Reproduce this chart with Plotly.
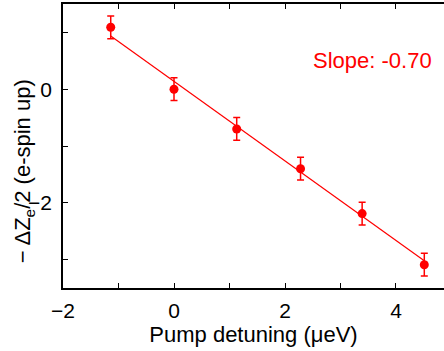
import numpy as np
import plotly.graph_objects as go

# Measured spin-up Zeeman shift vs pump detuning
detuning = [-1.14, 0.0, 1.13, 2.28, 3.39, 4.51]      # µeV
shift = [1.09, 0.0, -0.70, -1.40, -2.19, -3.09]
shift_err = [0.20, 0.20, 0.20, 0.20, 0.20, 0.20]
slope = -0.70

RED = "#ff0000"
FONT = "Liberation Sans, Arial, sans-serif"

# Linear fit with the quoted slope; intercept from the data
x_arr = np.array(detuning)
y_arr = np.array(shift)
intercept = y_arr.mean() - slope * x_arr.mean()
fit_x = np.array([x_arr.min(), x_arr.max()])
fit_y = intercept + slope * fit_x

fig = go.Figure()
fig.add_trace(go.Scatter(
    x=fit_x, y=fit_y, mode="lines",
    line=dict(color=RED, width=1.2), showlegend=False, hoverinfo="skip",
))
fig.add_trace(go.Scatter(
    x=detuning, y=shift, mode="markers",
    marker=dict(color=RED, size=9),
    error_y=dict(type="data", array=shift_err, visible=True,
                 color=RED, thickness=1.5, width=3.5),
    showlegend=False,
))

fig.add_annotation(
    x=3.58, y=0.51, xref="x", yref="y",
    text=f"Slope: {slope:.2f}", showarrow=False,
    font=dict(family=FONT, size=22, color=RED),
)
fig.add_annotation(
    x=-0.145, y=0.41, xref="paper", yref="paper",
    text="\u2212 \u0394Z<sub>e</sub>/2 (e-spin up)", textangle=-90,
    showarrow=False, font=dict(family=FONT, size=22, color="black"),
)

fig.update_layout(
    width=444, height=351,
    margin=dict(l=63, r=0, t=4, b=63),
    paper_bgcolor="white", plot_bgcolor="white",
    font=dict(family=FONT, size=21, color="black"),
    xaxis=dict(
        range=[-2, 4.865], tickvals=[-2, 0, 2, 4],
        ticks="inside", ticklen=5, tickwidth=1, tickcolor="black",
        minor=dict(dtick=1, tick0=0, ticks="inside", ticklen=5,
                   tickwidth=1, tickcolor="black"),
        showline=True, linecolor="black", linewidth=1.5, mirror="ticks",
        showgrid=False, zeroline=False, ticklabelstandoff=3,
        title=dict(text="Pump detuning (\u03bceV)", font=dict(size=22), standoff=2),
    ),
    yaxis=dict(
        range=[-3.5, 1.5], tickvals=[0, -2],
        ticks="inside", ticklen=5, tickwidth=1, tickcolor="black",
        minor=dict(dtick=1, tick0=0, ticks="inside", ticklen=5,
                   tickwidth=1, tickcolor="black"),
        showline=True, linecolor="black", linewidth=1.5, mirror=False,
        showgrid=False, zeroline=False, ticklabelstandoff=5,
    ),
)

fig.write_html("out.html")
